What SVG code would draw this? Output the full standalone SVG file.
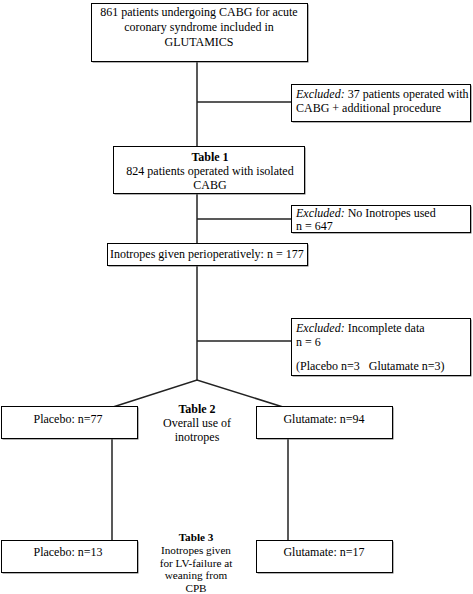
<svg xmlns="http://www.w3.org/2000/svg" width="473" height="594" viewBox="0 0 473 594">
<style>
text{font-family:"Liberation Serif","Times New Roman",Times,serif;font-size:12px;fill:#000}
.c{text-anchor:middle}
.b{font-weight:bold}
.s{font-size:11.2px}
.box{fill:#fff;stroke:#000;stroke-width:1}
.sh{fill:#666}
.ln{stroke:#222;stroke-width:1.5;fill:none}
</style>
<rect width="473" height="594" fill="#fff"/>
<g id="connectors">
<line class="ln" x1="197" y1="61" x2="197" y2="380"/>
<line class="ln" x1="197" y1="102" x2="291" y2="102"/>
<line class="ln" x1="197" y1="219" x2="291" y2="219"/>
<line class="ln" x1="197" y1="341" x2="291" y2="341"/>
<polyline class="ln" points="113,407 197,380 283,407"/>
<line class="ln" x1="112" y1="438" x2="112" y2="540"/>
<line class="ln" x1="288" y1="438" x2="288" y2="540"/>
</g>
<g id="n1">
<rect class="sh" x="92.5" y="4.5" width="216" height="58"/>
<rect class="box" x="91.5" y="3.5" width="216" height="58"/>
<text class="c" x="199" y="16">861 patients undergoing CABG for acute</text>
<text class="c" x="199" y="31">coronary syndrome included in</text>
<text class="c" x="199" y="46">GLUTAMICS</text>
</g>
<g id="ex1">
<rect class="sh" x="292.5" y="85.5" width="179" height="37"/>
<rect class="box" x="291.5" y="84.5" width="179" height="37"/>
<text x="296" y="98"><tspan font-style="italic">Excluded:</tspan> 37 patients operated with</text>
<text x="296" y="112">CABG + additional procedure</text>
</g>
<g id="t1">
<rect class="sh" x="114.5" y="147.5" width="191" height="47"/>
<rect class="box" x="113.5" y="146.5" width="191" height="47"/>
<text class="c b" x="210" y="161">Table 1</text>
<text class="c" x="210" y="175">824 patients operated with isolated</text>
<text class="c" x="210" y="189">CABG</text>
</g>
<g id="ex2">
<rect class="sh" x="292.5" y="206.5" width="179" height="27"/>
<rect class="box" x="291.5" y="205.5" width="179" height="27"/>
<text x="296" y="217"><tspan font-style="italic">Excluded:</tspan> No Inotropes used</text>
<text x="296" y="230">n = 647</text>
</g>
<g id="ino">
<rect class="sh" x="108.5" y="244.5" width="200" height="22"/>
<rect class="box" x="107.5" y="243.5" width="200" height="22"/>
<text x="110" y="258">Inotropes given perioperatively: n = 177</text>
</g>
<g id="ex3">
<rect class="sh" x="292.5" y="319.5" width="179" height="57"/>
<rect class="box" x="291.5" y="318.5" width="179" height="57"/>
<text x="296" y="332"><tspan font-style="italic">Excluded:</tspan> Incomplete data</text>
<text x="296" y="346">n = 6</text>
<text x="296" y="370" xml:space="preserve">(Placebo n=3   Glutamate n=3)</text>
</g>
<g id="p77">
<rect class="sh" x="2.5" y="407.5" width="136" height="32"/>
<rect class="box" x="1.5" y="406.5" width="136" height="32"/>
<text class="c" x="68" y="423">Placebo: n=77</text>
</g>
<g id="t2">
<text class="c b" x="197" y="413">Table 2</text>
<text class="c" x="197" y="427">Overall use of</text>
<text class="c" x="197" y="441">inotropes</text>
</g>
<g id="g94">
<rect class="sh" x="257.5" y="407.5" width="136" height="32"/>
<rect class="box" x="256.5" y="406.5" width="136" height="32"/>
<text class="c" x="324" y="423">Glutamate: n=94</text>
</g>
<g id="p13">
<rect class="sh" x="2.5" y="541.5" width="136" height="32"/>
<rect class="box" x="1.5" y="540.5" width="136" height="32"/>
<text class="c" x="68" y="556">Placebo: n=13</text>
</g>
<g id="t3">
<text class="c b s" x="196" y="541">Table 3</text>
<text class="c s" x="196" y="553.8">Inotropes given</text>
<text class="c s" x="196" y="566.6">for LV-failure at</text>
<text class="c s" x="196" y="579.4">weaning from</text>
<text class="c s" x="196" y="592.2">CPB</text>
</g>
<g id="g17">
<rect class="sh" x="257.5" y="541.5" width="136" height="32"/>
<rect class="box" x="256.5" y="540.5" width="136" height="32"/>
<text class="c" x="324" y="556">Glutamate: n=17</text>
</g>
</svg>
